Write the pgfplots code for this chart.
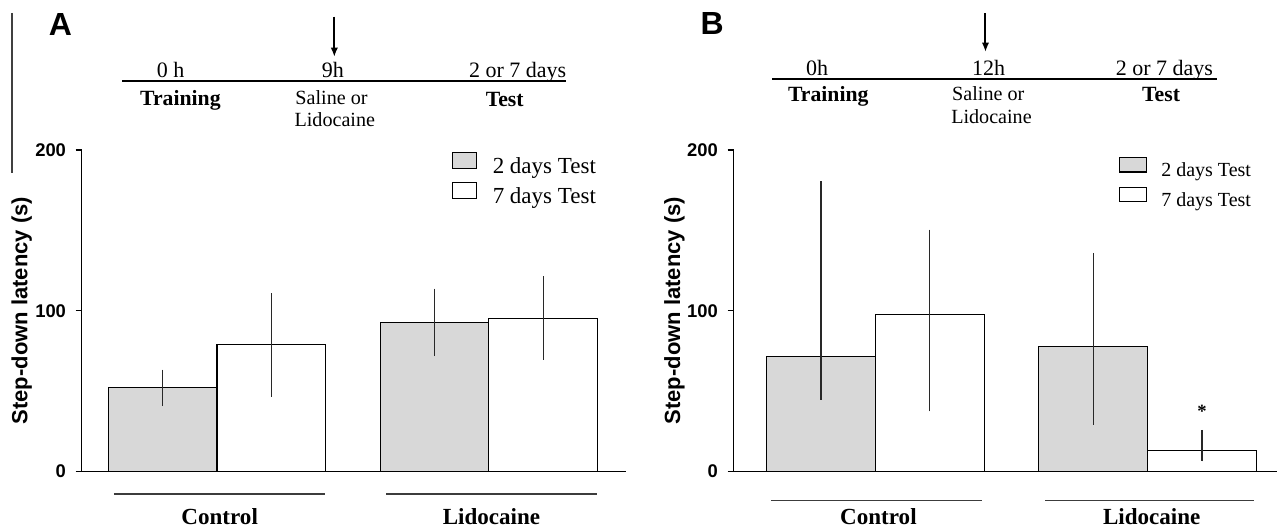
\documentclass[border=0pt]{standalone}
\usepackage{fontspec}
\setmainfont{Liberation Serif}
\newfontfamily\arial{Liberation Sans}
\usepackage{pgfplots}
\pgfplotsset{compat=1.18}
\usetikzlibrary{arrows.meta}
\definecolor{barGray}{RGB}{216,216,216}
\definecolor{lineGray}{RGB}{60,60,60}
\definecolor{errGray}{RGB}{40,40,40}

\pgfplotsset{
  panel/.style={
    scale only axis, anchor=south west,
    height=241.275pt,
    ymin=0, ymax=200,
    axis x line*=bottom, axis y line*=left,
    axis line style={line width=1pt, black},
    xtick=\empty, ytick={0,100,200},
    tick align=outside, major tick length=4.5pt,
    ytick style={line width=1pt, black},
    /pgf/number format/assume math mode=true,
    yticklabel style={font=\arial\bfseries\fontsize{13.8}{15}\selectfont, inner sep=0pt, xshift=-7pt},
    ylabel={Step-down latency (s)},
    clip=false,
    legend cell align=left,
  },
  errs/.style={error bars/.cd, y dir=both, y explicit, error mark=none,
    error bar style={line width=0.9pt, errGray}},
}

\begin{document}
\begin{tikzpicture}
\begin{scope}[x=0.75pt, y=-0.75pt]
  \path[use as bounding box] (0,0) rectangle (1278,530);
  % scan artefact line at left edge
  \draw[black!75, line width=0.8pt] (12,13) -- (12,173);
  % panel letters
  \node[font=\arial\bfseries\fontsize{24}{24}\selectfont, anchor=base, inner sep=0pt] at (60.5,36) {A};
  \node[font=\arial\bfseries\fontsize{24}{24}\selectfont, anchor=base, inner sep=0pt] at (712.5,35) {B};
  % timeline A
  \draw[line width=1.8pt] (122.5,81.2) -- (566.7,81.2);
  \draw[line width=1.5pt, -{Latex[length=7pt,width=5.5pt]}] (334.5,16.7) -- (334.5,57);
  \begin{scope}[every node/.style={anchor=base, inner sep=0pt}]
    \node[font=\fontsize{16.5}{18}\selectfont] at (170.8,77.5) {0 h};
    \node[font=\fontsize{16.5}{18}\selectfont] at (333,77.5) {9h};
    \node[font=\fontsize{16.5}{18}\selectfont] at (518,77.5) {2 or 7 days};
    \node[font=\bfseries\fontsize{16.3}{18}\selectfont] at (180.5,106) {Training};
    \node[font=\fontsize{15.1}{16}\selectfont] at (331.7,105) {Saline or};
    \node[font=\fontsize{15.1}{16}\selectfont] at (335,126.7) {Lidocaine};
    \node[font=\bfseries\fontsize{16.3}{18}\selectfont] at (505,106.5) {Test};
  % timeline B
    \node[font=\fontsize{16.5}{18}\selectfont] at (817.5,75.7) {0h};
    \node[font=\fontsize{16.5}{18}\selectfont] at (989.2,75.7) {12h};
    \node[font=\fontsize{16.5}{18}\selectfont] at (1165,75.7) {2 or 7 days};
    \node[font=\bfseries\fontsize{16.3}{18}\selectfont] at (828.7,101.7) {Training};
    \node[font=\fontsize{15.1}{16}\selectfont] at (988.8,101) {Saline or};
    \node[font=\fontsize{15.1}{16}\selectfont] at (992,123.3) {Lidocaine};
    \node[font=\bfseries\fontsize{16.3}{18}\selectfont] at (1161.7,101.7) {Test};
  \end{scope}
  \draw[line width=1.8pt] (772.7,78.8) -- (1217.3,78.8);
  \draw[line width=1.5pt, -{Latex[length=7pt,width=5.5pt]}] (986,13.3) -- (986,52);
\end{scope}

% ---------------- Panel A ----------------
\begin{axis}[panel,
  at={(61.2pt,-353.775pt)}, width=408.675pt,
  xmin=0.5017, xmax=2.5057,
  every axis y label/.style={at={(axis description cs:-0.1101,0.5)}, rotate=90, anchor=center,
    font=\arial\bfseries\fontsize{16.5}{18}\selectfont},
  legend style={at={(axis description cs:0.6792,0.995)}, anchor=north west, draw=none, fill=none,
    inner sep=0pt, row sep=5pt, nodes={inner sep=0pt}, font=\fontsize{17.25}{20}\selectfont},
]
\addplot[ybar, bar width=0.4, bar shift=0pt, fill=barGray, draw=black, line width=0.8pt,
  legend image code/.code={\draw[line width=0.8pt, draw=black, fill=barGray] (0pt,-1.5pt) rectangle (18.2pt,10.5pt); \path (30pt,0pt);},
  errs] coordinates {(0.8,52.0) +- (0,11.4) (1.8,92.7) +- (0,21.0)};
\addlegendentry{2 days Test}
\addplot[ybar, bar width=0.4, bar shift=0pt, fill=white, draw=black, line width=0.8pt,
  legend image code/.code={\draw[line width=0.8pt, draw=black, fill=white] (0pt,-1.5pt) rectangle (18.2pt,10.5pt); \path (30pt,0pt);},
  errs] coordinates {(1.2,78.8) +- (0,32.2) (2.2,95.4) +- (0,25.9)};
\addlegendentry{7 days Test}
\draw[lineGray, line width=0.9pt] (axis cs:0.621,-14.05) -- (axis cs:1.399,-14.05);
\draw[lineGray, line width=0.9pt] (axis cs:1.623,-14.05) -- (axis cs:2.400,-14.05);
\node[anchor=base, inner sep=0pt, font=\bfseries\fontsize{17.3}{19}\selectfont] at (axis cs:1.01,-33.1) {Control};
\node[anchor=base, inner sep=0pt, font=\bfseries\fontsize{17.3}{19}\selectfont] at (axis cs:2.01,-33.1) {Lidocaine};
\end{axis}

% ---------------- Panel B ----------------
\begin{axis}[panel,
  at={(550.425pt,-353.775pt)}, width=408.075pt,
  xmin=0.4785, xmax=2.4767,
  every axis y label/.style={at={(axis description cs:-0.1088,0.5)}, rotate=90, anchor=center,
    font=\arial\bfseries\fontsize{16.5}{18}\selectfont},
  legend style={at={(axis description cs:0.7083,0.9783)}, anchor=north west, draw=none, fill=none,
    inner sep=0pt, row sep=6pt, nodes={inner sep=0pt}, font=\fontsize{15}{18}\selectfont},
]
\addplot[ybar, bar width=0.4, bar shift=0pt, fill=barGray, draw=black, line width=0.8pt,
  legend image code/.code={\draw[line width=0.8pt, draw=black, fill=barGray] (0pt,-0.75pt) rectangle (20pt,10pt); \path (31pt,0pt);},
  errs] coordinates {(0.8,71.6) += (0,108.9) -= (0,27.0) (1.8,77.8) += (0,58.1) -= (0,48.8)};
\addlegendentry{2 days Test}
\addplot[ybar, bar width=0.4, bar shift=0pt, fill=white, draw=black, line width=0.8pt,
  legend image code/.code={\draw[line width=0.8pt, draw=black, fill=white] (0pt,-0.75pt) rectangle (20pt,10pt); \path (31pt,0pt);},
  errs] coordinates {(1.2,97.9) += (0,52.5) -= (0,60.6) (2.2,12.9) += (0,13.0) -= (0,6.7)};
\addlegendentry{7 days Test}
\node[anchor=base, inner sep=0pt, font=\bfseries\fontsize{14}{14}\selectfont] at (axis cs:2.2,33.5) {*};
\draw[lineGray, line width=0.9pt] (axis cs:0.616,-18.2) -- (axis cs:1.393,-18.2);
\draw[lineGray, line width=0.9pt] (axis cs:1.623,-18.2) -- (axis cs:2.391,-18.2);
\node[anchor=base, inner sep=0pt, font=\bfseries\fontsize{17.3}{19}\selectfont] at (axis cs:1.011,-33.1) {Control};
\node[anchor=base, inner sep=0pt, font=\bfseries\fontsize{17.3}{19}\selectfont] at (axis cs:2.015,-33.1) {Lidocaine};
\end{axis}
\end{tikzpicture}
\end{document}
